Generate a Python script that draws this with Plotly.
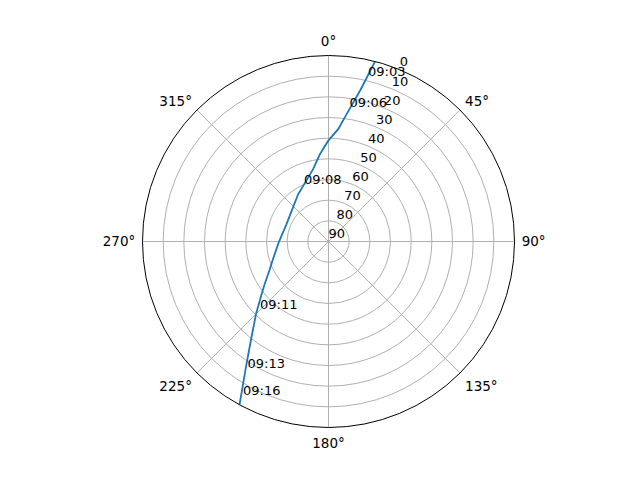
import plotly.graph_objects as go

# satellite pass, azimuth (deg, clockwise from north) and elevation (deg)
track_az = [14.5, 11.9, 8.2, 5.0, 359.9, 354.4, 348.0, 335.3, 327.0, 313.3,
            291.5, 269.0, 251.5, 244.0, 235.6, 231.7, 225.0, 218.0, 213.2,
            210.0, 208.6]
track_el = [0.0, 15.1, 27.5, 35.3, 41.2, 47.5, 54.2, 60.5, 62.9, 66.3,
            68.0, 65.9, 61.5, 58.2, 52.3, 48.7, 40.4, 28.9, 16.9,
            6.1, 0.0]

# time labels along the track
label_az = [13.2, 8.7, 338.2, 226.9, 213.4, 209.6]
label_el = [6.3, 22.5, 58.1, 44.6, 18.8, 6.2]
label_txt = ['09:03', '09:06', '09:08', '09:11', '09:13', '09:16']

el_ticks = list(range(0, 100, 10))
rlabel_pos = 22.5

fig = go.Figure()
fig.add_trace(go.Scatterpolar(
    theta=track_az, r=track_el, mode='lines',
    line=dict(color='#1f77b4', width=1.8),
    showlegend=False,
))
fig.add_trace(go.Scatterpolar(
    theta=label_az, r=label_el, mode='text', text=label_txt,
    textposition='middle right',
    textfont=dict(family='DejaVu Sans', size=13, color='black'),
    showlegend=False,
))
# elevation tick labels along the 22.5 deg line, like matplotlib
fig.add_trace(go.Scatterpolar(
    theta=[rlabel_pos] * len(el_ticks), r=el_ticks, mode='text',
    text=[str(v) for v in el_ticks],
    textposition='top right',
    textfont=dict(family='DejaVu Sans', size=13, color='black'),
    showlegend=False,
))

fig.update_layout(
    width=640, height=480,
    margin=dict(l=0, r=0, t=0, b=0),
    paper_bgcolor='white',
    font=dict(family='DejaVu Sans', size=13, color='black'),
    polar=dict(
        domain=dict(x=[134.5 / 640, 506.5 / 640], y=[60.5 / 480, 432.5 / 480]),
        bgcolor='white',
        angularaxis=dict(
            rotation=90, direction='clockwise',
            tickmode='linear', tick0=0, dtick=45, ticksuffix='°',
            tickfont=dict(size=13.5),
            showline=True, linecolor='black', linewidth=1,
            gridcolor='#b0b0b0', gridwidth=0.8,
            ticks='outside', ticklen=4, tickcolor='rgba(0,0,0,0)',
        ),
        radialaxis=dict(
            range=[90, 0], tickvals=el_ticks, showticklabels=False,
            showline=False, gridcolor='#b0b0b0', gridwidth=0.8, ticks='',
        ),
    ),
)

fig.write_html("out.html")
